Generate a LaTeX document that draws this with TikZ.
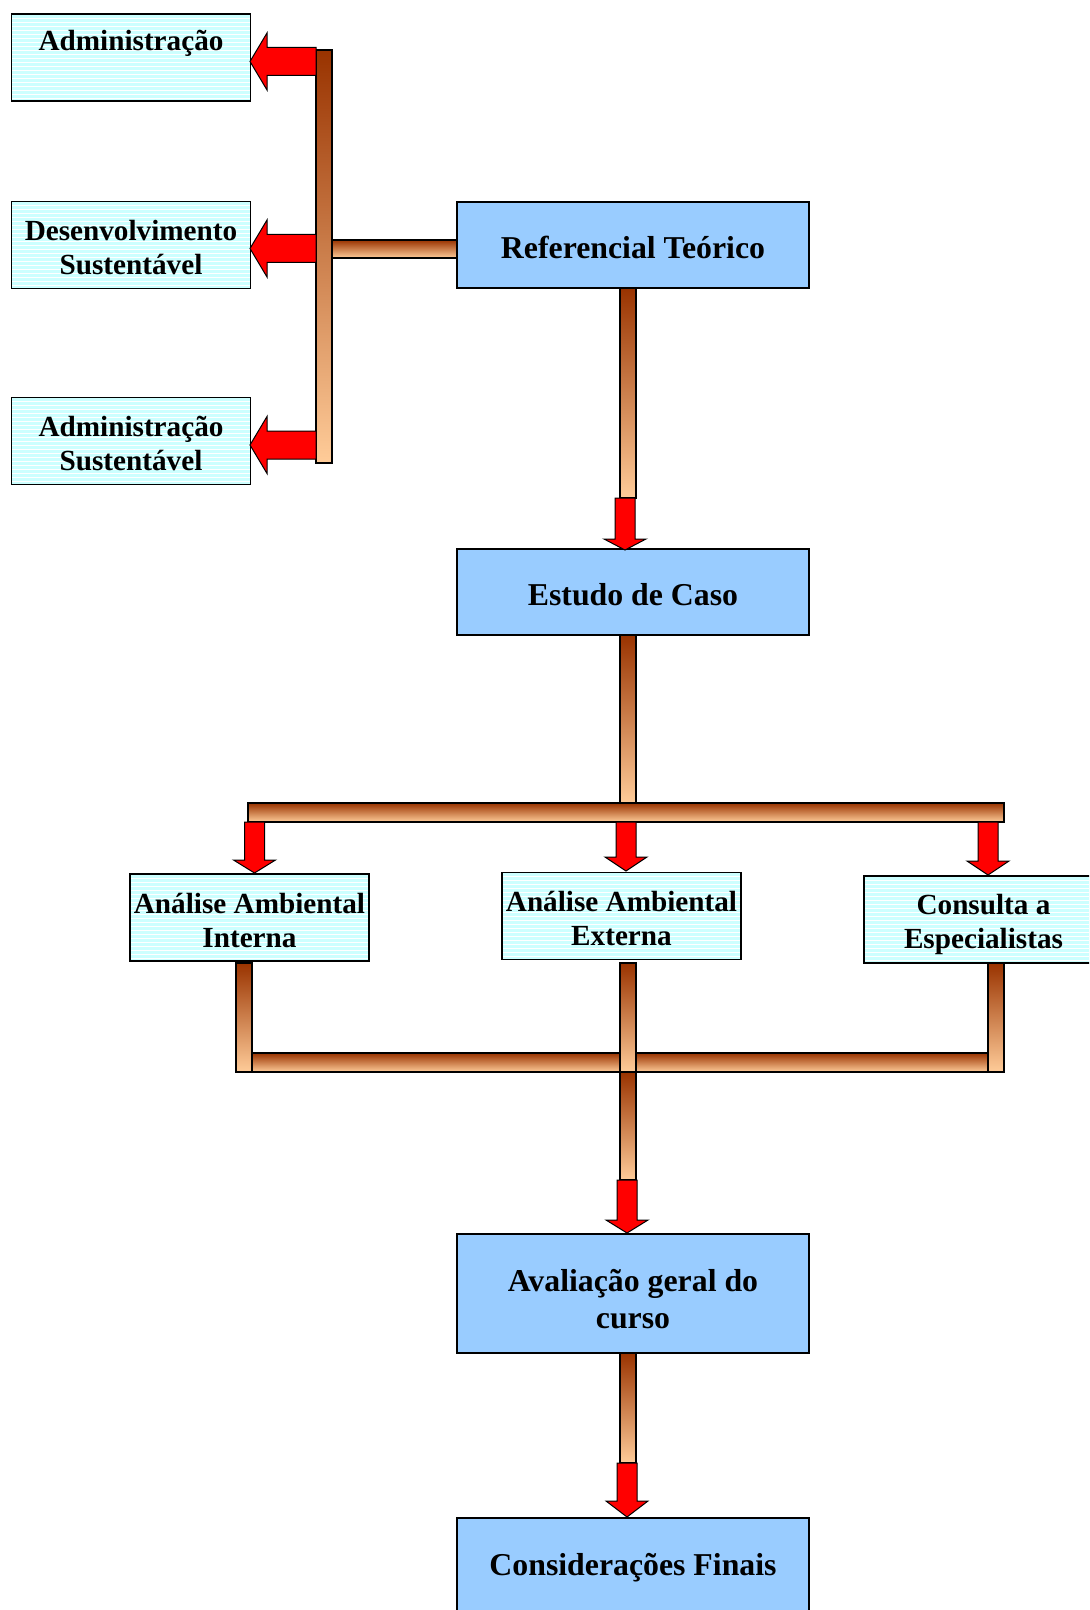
\documentclass[tikz,border=0pt]{standalone}
\usepackage{fontspec}
\setmainfont{Liberation Serif}
\definecolor{bardark}{RGB}{153,51,0}
\definecolor{barlight}{RGB}{255,204,153}
\definecolor{boxblue}{RGB}{153,204,255}
\definecolor{boxcyan}{RGB}{204,255,255}
\definecolor{arrowred}{RGB}{255,0,0}
\tikzset{
  bar/.style={draw=black, line width=1.1pt, top color=bardark, bottom color=barlight},
  redarrow/.style={draw=black, line width=0.5pt, fill=arrowred, line join=miter},
  bluebox/.style={draw=black, line width=0.9pt, fill=boxblue, minimum width=176pt,
    minimum height=43pt, inner sep=0pt},
  cyanbox/.style={draw=black, line width=0.9pt, fill=boxcyan, minimum width=119.5pt,
    minimum height=43.5pt, inner sep=0pt,
    path picture={
      \foreach \k in {1,...,62}{
        \draw[white, line width=0.45pt]
          ([yshift=-\k*2pt]path picture bounding box.north west) --
          ([yshift=-\k*2pt]path picture bounding box.north east);
      }
    }},
  bluetext/.style={inner sep=0pt, align=center, font=\fontsize{15.9}{18.6}\selectfont\bfseries},
  cyantext/.style={inner sep=0pt, align=center, font=\fontsize{14.6}{17}\selectfont\bfseries},
}
% downward block arrow: centre x, shaft top, head base, tip
\newcommand{\arrdown}[4]{%
  \draw[redarrow] (#1-10,#2) -- (#1+10,#2) -- (#1+10,#3) -- (#1+21,#3) -- (#1,#4)
    -- (#1-21,#3) -- (#1-10,#3) -- cycle;}
% leftward block arrow from the side rail: centre y
\newcommand{\arrleft}[1]{%
  \draw[redarrow] (316,#1-14) -- (316,#1+14) -- (267,#1+14) -- (267,#1+28.5) -- (250,#1)
    -- (267,#1-28.5) -- (267,#1-14) -- cycle;}
\begin{document}
\begin{tikzpicture}[x=0.5pt, y=-0.5pt]
\useasboundingbox (0,0) rectangle (1089,1610);
\clip (0,0) rectangle (1089,1610);
\fill[white] (0,0) rectangle (1089,1610);

% connector bars
\draw[bar] (316,50) rectangle (332,463);
\draw[bar] (332,240) rectangle (457,258);
\draw[bar] (620,288) rectangle (636,498);
\draw[bar] (620,635) rectangle (636,803);
\draw[bar] (248,803) rectangle (1004,822);
\draw[bar] (236,963) rectangle (252,1072);
\draw[bar] (988,963) rectangle (1004,1072);
\draw[bar] (252,1053) rectangle (988,1072);
\draw[bar] (620,963) rectangle (636,1072);
\draw[bar] (620,1072) rectangle (636,1180);
\draw[bar] (620,1353) rectangle (636,1463);

% boxes
\node[cyanbox] (adm) at (131,57.5) {};
\node[cyanbox] (desenv) at (131,245) {};
\node[cyanbox] (admsust) at (131,441) {};
\node[bluebox] (ref) at (633,245) {};
\node[bluebox] (estudo) at (633,592) {};
\node[cyanbox] (interna) at (249.5,917.5) {};
\node[cyanbox] (externa) at (621.5,916) {};
\node[cyanbox] (consulta) at (983.5,919.5) {};
\node[bluebox, minimum height=59.5pt] (aval) at (633,1293.5) {};
\node[bluebox, minimum height=47pt] (consid) at (633,1565) {};

% box labels
\node[cyantext] (admt) at ([yshift=7.25pt]adm.center) {Administração};
\node[cyantext] (desenvt) at ([yshift=-1.5pt]desenv.center) {Desenvolvimento\\Sustentável};
\node[cyantext] (admsustt) at ([yshift=-1.5pt]admsust.center) {Administração\\Sustentável};
\node[bluetext] (reft) at ([yshift=-1pt]ref.center) {Referencial Teórico};
\node[bluetext] (estudot) at ([yshift=-1.5pt]estudo.center) {Estudo de Caso};
\node[cyantext] (internat) at ([yshift=-1.5pt]interna.center) {Análise Ambiental\\Interna};
\node[cyantext] (externat) at ([yshift=-1pt]externa.center) {Análise Ambiental\\Externa};
\node[cyantext] (consultat) at ([yshift=-2.5pt]consulta.center) {Consulta a\\Especialistas};
\node[bluetext] (avalt) at ([yshift=-3pt]aval.center) {Avaliação geral do\\curso};
\node[bluetext] (considt) at ([yshift=-1.5pt]consid.center) {Considerações Finais};

% arrows
\arrleft{61.5}
\arrleft{248.5}
\arrleft{445}
\arrdown{625}{498}{539}{550}
\arrdown{254.5}{822}{860}{873}
\arrdown{626}{822}{857}{871}
\arrdown{988}{822}{861}{875}
\arrdown{627}{1180}{1220}{1233}
\arrdown{627}{1463}{1501}{1517}
\end{tikzpicture}
\end{document}
